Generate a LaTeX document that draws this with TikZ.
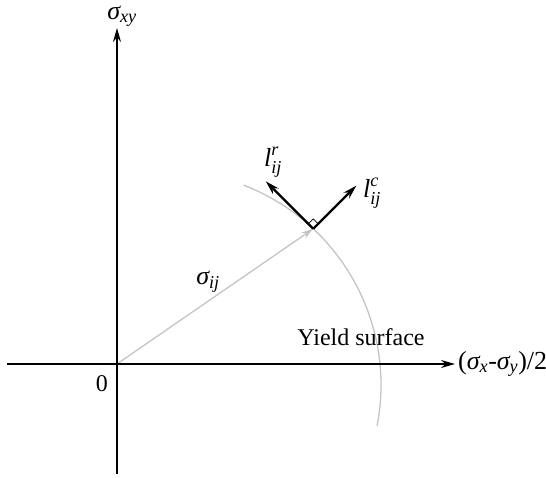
\documentclass[tikz,border=0pt]{standalone}
\usepackage{amsmath}
\usepackage{fontspec}
\setmainfont{Liberation Serif}
\usetikzlibrary{arrows.meta, positioning, calc}
\definecolor{yieldGray}{HTML}{C4C4C4}
\newcommand{\gsig}{\text{\itshape σ}}
\newcommand{\ital}[1]{\text{\itshape #1}}

\begin{document}
\begin{tikzpicture}[x=1pt, y=1pt, >={Stealth[length=14pt, width=8pt]},
    font=\fontsize{24}{28}\selectfont,
    axis/.style={->, line width=1.5pt, draw=black},
    vec/.style={->, line width=2.2pt, draw=black},
    grayline/.style={line width=1.3pt, draw=yieldGray},
    lbl/.style={inner sep=1pt},
    mlbl/.style={inner sep=1pt, font=\fontsize{26}{30}\selectfont}]
  \useasboundingbox (-117,-114) rectangle (429,364);

  \coordinate (O)  at (0,0);
  \coordinate (xl) at (-110,0);
  \coordinate (xr) at (338,0);
  \coordinate (yb) at (0,-110);
  \coordinate (yt) at (0,336);
  \coordinate (C)  at (50,-21);
  \coordinate (P)  at ($(C)+(46.9:214)$);
  \coordinate (lc) at ($(P)+(45:61)$);
  \coordinate (lr) at ($(P)+(135:67)$);

  % yield surface and stress vector
  \draw[grayline] ($(C)+(69:214)$) arc[start angle=69, end angle=-11, radius=214];
  \draw[grayline, ->, >={Stealth[length=12pt, width=7pt]}] (O) -- (P);

  % axes
  \draw[axis] (xl) -- (xr);
  \draw[axis] (yb) -- (yt);

  % normal and tangent directions
  \draw[vec] (P) -- (lc);
  \draw[vec] (P) -- (lr);
  \draw[line width=0.8pt] ($(P)+(45:7)$) -- ($(P)+(45:7)+(135:7)$) -- ($(P)+(135:7)$);

  \node[mlbl, right=2pt of xr] (xlab) {($\gsig_{\ital{x}}$-$\gsig_{\ital{y}}$)/2};
  \node[mlbl, above=0pt of yt, xshift=5pt] (ylab) {$\gsig_{\ital{xy}}$};
  \node[lbl] (zero) at (-15,-20) {0};
  \node[mlbl] (sij) at (91,82) {$\gsig_{\ital{ij}}$};
  \node[lbl] (ys) at (244,27) {Yield surface};
  \node[mlbl] (lrlab) at (156,202) {$\ital{l}^{\ital{r}}_{\ital{ij}}$};
  \node[mlbl] (lclab) at (255,171) {$\ital{l}^{\ital{c}}_{\ital{ij}}$};
\end{tikzpicture}
\end{document}
